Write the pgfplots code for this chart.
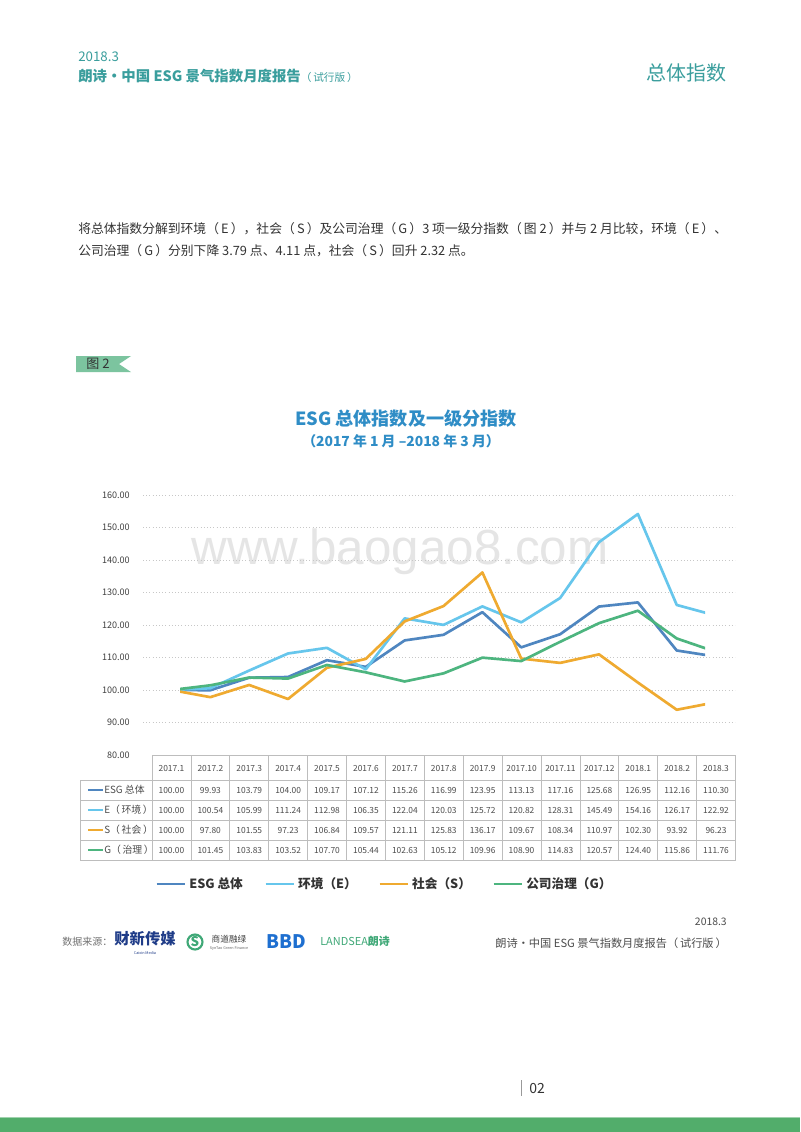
\documentclass[border=0pt]{standalone}
\usepackage{fontspec}
\setmainfont{Noto Sans CJK SC}
\newfontfamily\wmfont{Liberation Sans}
\usepackage{pgfplots}
\usepackage{pgfplotstable}
\pgfplotsset{compat=1.18}

\definecolor{hdteal}{HTML}{3A9E9D}
\definecolor{titleblue}{HTML}{2F8DC6}
\definecolor{esgc}{HTML}{4F86C0}
\definecolor{ec}{HTML}{66C6EC}
\definecolor{sc}{HTML}{EFAA30}
\definecolor{gc}{HTML}{4DB57F}
\definecolor{taggreen}{HTML}{7CC49F}
\definecolor{bargreen}{HTML}{52AD6B}
\definecolor{bodytext}{HTML}{333333}
\definecolor{tabline}{HTML}{BDBDBD}
\definecolor{caixin}{HTML}{1F3C88}
\definecolor{bbdblue}{HTML}{1E6FD0}
\definecolor{landsea}{HTML}{3FA877}

% monthly index values (2017.1 = 100)
\pgfplotstableread{
idx month   esg    e      s      g
0   2017.1  100.00 100.00 100.00 100.00
1   2017.2  99.93  100.54 97.80  101.45
2   2017.3  103.79 105.99 101.55 103.83
3   2017.4  104.00 111.24 97.23  103.52
4   2017.5  109.17 112.98 106.84 107.70
5   2017.6  107.12 106.35 109.57 105.44
6   2017.7  115.26 122.04 121.11 102.63
7   2017.8  116.99 120.03 125.83 105.12
8   2017.9  123.95 125.72 136.17 109.96
9   2017.10 113.13 120.82 109.67 108.90
10  2017.11 117.16 128.31 108.34 114.83
11  2017.12 125.68 145.49 110.97 120.57
12  2018.1  126.95 154.16 102.30 124.40
13  2018.2  112.16 126.17 93.92  115.86
14  2018.3  110.30 122.92 96.23  111.76
}\datatable

\newcommand\pl{（\,}
\newcommand\pr{\,）}

\begin{document}
\begin{tikzpicture}[x=0.75pt, y=-0.75pt]
\path[use as bounding box, fill=white] (0,0) rectangle (800,1132);

% header
\node[anchor=west, inner sep=0, text=hdteal, font=\fontsize{10}{12}\selectfont] at (78,57) {2018.3};
\node[anchor=west, inner sep=0, text=hdteal, font=\bfseries\fontsize{10.8}{12}\selectfont] at (78,76)
  {朗诗·中国 ESG 景气指数月度报告{\mdseries\fontsize{8}{9}\selectfont\pl 试行版\pr}};
\node[anchor=east, inner sep=0, text=hdteal, font=\fontsize{15}{17}\selectfont] at (727,73) {总体指数};

% body text
\node[anchor=west, inner sep=0, text=bodytext, font=\fontsize{9.6}{12}\selectfont] at (78,229)
  {将总体指数分解到环境\pl E\pr，社会\pl S\pr 及公司治理\pl G\pr 3 项一级分指数\pl 图 2\pr 并与 2 月比较，环境\pl E\pr、};
\node[anchor=west, inner sep=0, text=bodytext, font=\fontsize{9.6}{12}\selectfont] at (78,251)
  {公司治理\pl G\pr 分别下降 3.79 点、4.11 点，社会\pl S\pr 回升 2.32 点。};

% figure tag
\fill[taggreen] (76,356) -- (131,356) -- (119,364) -- (131,372) -- (76,372) -- cycle;
\node[inner sep=0, text=bodytext, font=\fontsize{9.8}{11}\selectfont] at (98,364) {图 2};

% chart title
\node[inner sep=0, text=titleblue, font=\bfseries\fontsize{13.6}{15}\selectfont] at (406,419) {ESG 总体指数及一级分指数};
\node[inner sep=0, text=titleblue, font=\bfseries\fontsize{10.4}{12}\selectfont] at (401,441) {（2017 年 1 月 –2018 年 3 月）};

% watermark
\node[inner sep=0, text=black!10, font=\wmfont\fontsize{37}{40}\selectfont] at (400,552) {www.baogao8.com};

% grid and y tick labels
\begin{axis}[
  at={(107.25pt,-566.25pt)}, anchor=south west,
  width=444pt, height=195pt, scale only axis,
  xmin=0, xmax=1, ymin=80, ymax=160,
  axis line style={draw=none},
  xtick=\empty,
  ytick={90,100,...,160},
  extra y ticks={80},
  extra y tick style={grid=none},
  ymajorgrids,
  grid style={dotted, line width=0.6pt, color=black!22},
  tick style={draw=none},
  /pgf/number format/.cd, fixed, fixed zerofill, precision=2, assume math mode=true,
  /pgfplots/.cd,
  yticklabel style={anchor=east, inner sep=0pt, xshift=-9.75pt, text=black!75,
    font=\fontsize{6.8}{8}\selectfont},
]
\end{axis}

% series lines
\begin{axis}[
  at={(135pt,-566.25pt)}, anchor=south west,
  width=393.75pt, height=195pt, scale only axis,
  xmin=0.2204, xmax=13.727, ymin=80, ymax=160,
  hide axis, clip=true,
  every axis plot/.append style={line width=2pt, line join=round, mark=none},
  legend image code/.code={\draw[#1, line width=2pt] (0pt,0pt) -- (21.5pt,0pt);},
  legend style={at={(-0.0476,-0.496)}, anchor=west, draw=none, fill=none,
    inner sep=0pt, legend columns=4, text=bodytext,
    font=\bfseries\fontsize{9.5}{11}\selectfont,
    /tikz/every even column/.append style={column sep=14pt}},
]
\addplot[esgc] table[x=idx, y=esg] {\datatable};
\addplot[ec] table[x=idx, y=e] {\datatable};
\addplot[sc] table[x=idx, y=s] {\datatable};
\addplot[gc] table[x=idx, y=g] {\datatable};
\legend{ESG 总体, 环境（E）, 社会（S）, 公司治理（G）}
\end{axis}

% data table
\begin{scope}[tabline, line width=0.6pt]
  \draw (152,755) -- (735.5,755);
  \foreach \yy in {780,800,820,840,860} \draw (80,\yy) -- (735.5,\yy);
  \draw (80,780) -- (80,860);
  \foreach \k in {0,...,15} \draw ({152+\k*38.9},755) -- ({152+\k*38.9},860);
\end{scope}
\foreach \col/\yy/\cc/\lab in {esg/790/esgc/ESG 总体, e/810/ec/E\pl 环境\pr, s/830/sc/S\pl 社会\pr, g/850/gc/G\pl 治理\pr} {
  \draw[\cc, line width=2pt] (88,\yy) -- (103,\yy);
  \node[anchor=west, inner sep=0, text=black!70, font=\fontsize{7.4}{9}\selectfont] at (104,\yy) {\lab};
}
\foreach \i in {0,...,14} {
  \pgfmathsetmacro\cx{152+(\i+0.5)*38.9}
  \pgfplotstablegetelem{\i}{month}\of\datatable
  \node[inner sep=0, text=black!70, font=\fontsize{6.3}{8}\selectfont] at (\cx,768) {\pgfplotsretval};
  \foreach \col/\yy in {esg/790, e/810, s/830, g/850} {
    \pgfplotstablegetelem{\i}{\col}\of\datatable
    \node[inner sep=0, text=black!70, font=\fontsize{6.3}{8}\selectfont] at (\cx,\yy) {\pgfplotsretval};
  }
}

% footer: sources
\node[anchor=west, inner sep=0, text=black!55, font=\fontsize{7.5}{9}\selectfont] at (62,942) {数据来源：};
\node[inner sep=0, text=caixin, font=\bfseries\fontsize{11.5}{12}\selectfont] at (145,939) {财新传媒};
\node[inner sep=0, text=caixin, font=\fontsize{2.8}{3}\selectfont] at (145,953) {Caixin Media};
\draw[landsea, line width=1.6pt] (195,942) circle (7.5);
\node[inner sep=0, text=landsea, font=\bfseries\fontsize{10}{10}\selectfont] at (195,942) {S};
\node[inner sep=0, text=black!75, font=\fontsize{6.5}{7}\selectfont] at (229,939) {商道融绿};
\node[inner sep=0, text=black!60, font=\fontsize{2.8}{3}\selectfont] at (229,948) {SynTao Green Finance};
\node[inner sep=0, text=bbdblue, font=\bfseries\fontsize{14}{14}\selectfont] at (286,942) {BBD};
\node[anchor=west, inner sep=0, text=landsea, font=\fontsize{8.2}{9}\selectfont] at (320,941) {LANDSEA{\bfseries 朗诗}};

% footer: report name
\node[anchor=east, inner sep=0, text=black!70, font=\fontsize{7.8}{9}\selectfont] at (727,922) {2018.3};
\node[anchor=east, inner sep=0, text=black!70, font=\fontsize{8.4}{10}\selectfont] at (727,943) {朗诗·中国 ESG 景气指数月度报告\pl 试行版\pr};

% page number and bottom bar
\draw[black!40, line width=0.5pt] (521,1080) -- (521,1096);
\node[anchor=west, inner sep=0, text=bodytext, font=\fontsize{10.5}{12}\selectfont] at (529,1088) {02};
\fill[bargreen!55] (0,1116.5) rectangle (800,1118);
\fill[bargreen] (0,1118) rectangle (800,1132);
\end{tikzpicture}
\end{document}
